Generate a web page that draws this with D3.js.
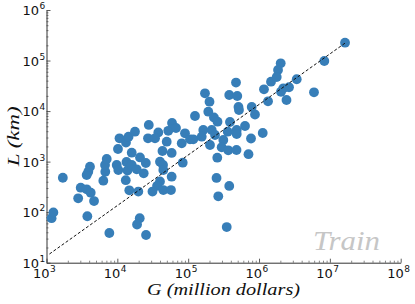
<!DOCTYPE html>
<html><head><meta charset="utf-8">
<script src="https://cdn.jsdelivr.net/npm/d3@7"></script>
<style>body{margin:0;background:#fff}svg{display:block}</style>
</head><body>
<script>
// GDP (million dollars) for each point
const G = [1180,1250,1700,2800,3040,3690,4210,4690,3770,3690,3890,4110,6340,6760,6700,7080,7710,9800,10320,10210,
  10730,13240,14400,13460,13900,13150,14750,15960,17740,20880,25230,15960,18750,23550,19770,20700,18970,25420,
  27800,37840,52360,59160,67300,27100,34040,49770,90160,106200,81100,124800,43360,58450,39990,44160,44570,83760,
  58450,39990,36310,31330,44570,57150,
  473000,172600,200000,380000,493000,513000,521000,789000,877000,1175000,1476000,1340000,192300,231000,259500,
  389000,634000,484000,484000,163300,214800,118000,155300,239300,313300,361500,1128000,771000,203200,297000,
  368000,481000,710000,257600,251200,380000,266000,350000,
  16370000,8350000,2023000,1854000,1778000,3405000,2650000,2203000,2042000,2443000,5970000];
// Length (km) for each point
const L = [76,99,480,188,305,283,243,166,83,543,631,793,419,631,857,1127,38.7,857,682,1778,
  2891,2388,3113,982,667,429,271,1500,3908,1208,940,857,705,588,256,75.7,57,35.3,
  5310,3767,4074,5808,4624,2891,2891,2477,3631,2767,2300,8000,1622,1483,995,857,682,952,
  503,404,330,256,274,274,
  36700,22500,15350,20800,19860,12050,10500,12050,8550,27000,38100,15600,9730,7460,6170,
  6080,5070,4230,3516,4230,4230,2767,3113,3365,2680,3908,3681,2864,2133,1919,
  1675,1698,1403,1197,475,330,206,50.8,
  225400,97900,88100,65000,47200,42600,29600,28200,24150,16560,23550];
const xTickExps = [3,4,5,6,7,8];
const yTickExps = [1,2,3,4,5,6];
const fitG = [1100, 16500000];
const fitRatio = 0.0135;
const watermark = "Train";
const xLabel = "G (million dollars)";
const yLabel = "L (km)";

(function () {
const W = 415, H = 304;
const mLeft = 46.5, mRight = 400.7, mTop = 10, mBottom = 262.7;
const svg = d3.select("body").append("svg").attr("width", W).attr("height", H);
const x = d3.scaleLog().domain([1e3, 1e8]).range([mLeft, mRight]);
const y = d3.scaleLog().domain([1e1, 1e6]).range([mBottom, mTop]);

function minors(lo, hi) {
  const out = [];
  for (let e = lo; e < hi; e++) for (let k = 2; k <= 9; k++) out.push(k * Math.pow(10, e));
  return out;
}
const axisColor = "#333";
svg.append("g").attr("transform", `translate(0,${mBottom})`)
  .call(d3.axisBottom(x).tickValues(minors(3, 8)).tickSize(-2).tickFormat(""))
  .call(g => { g.select(".domain").remove(); g.selectAll("line").attr("stroke", axisColor).attr("stroke-width", 0.6); });
svg.append("g").attr("transform", `translate(${mLeft},0)`)
  .call(d3.axisLeft(y).tickValues(minors(1, 6)).tickSize(-2).tickFormat(""))
  .call(g => { g.select(".domain").remove(); g.selectAll("line").attr("stroke", axisColor).attr("stroke-width", 0.6); });
const xAx = svg.append("g").attr("transform", `translate(0,${mBottom})`)
  .call(d3.axisBottom(x).tickValues(xTickExps.map(e => Math.pow(10, e))).tickSize(-4).tickSizeOuter(0).tickFormat(""));
const yAx = svg.append("g").attr("transform", `translate(${mLeft},0)`)
  .call(d3.axisLeft(y).tickValues(yTickExps.map(e => Math.pow(10, e))).tickSize(-4).tickSizeOuter(0).tickFormat(""));
[xAx, yAx].forEach(g => {
  g.select(".domain").attr("stroke", axisColor).attr("stroke-width", 1);
  g.selectAll("line").attr("stroke", axisColor).attr("stroke-width", 0.8);
});

const tickFont = "DejaVu Sans, sans-serif";
xTickExps.forEach(e => {
  const cx = x(Math.pow(10, e));
  svg.append("text").attr("x", cx + 3).attr("y", mBottom + 15)
    .attr("text-anchor", "end").attr("font-family", tickFont).attr("font-size", 13).attr("fill", "#111").text("10");
  svg.append("text").attr("x", cx + 3.5).attr("y", mBottom + 9)
    .attr("text-anchor", "start").attr("font-family", tickFont).attr("font-size", 9).attr("fill", "#111").text(e);
});
yTickExps.forEach(e => {
  const cy = y(Math.pow(10, e));
  svg.append("text").attr("x", mLeft - 7.5).attr("y", cy + 5)
    .attr("text-anchor", "end").attr("font-family", tickFont).attr("font-size", 13).attr("fill", "#111").text("10");
  svg.append("text").attr("x", mLeft - 7).attr("y", cy - 1)
    .attr("text-anchor", "start").attr("font-family", tickFont).attr("font-size", 9).attr("fill", "#111").text(e);
});

const pts = G.map((g, i) => ({ g, l: L[i] }));
svg.append("g").selectAll("circle").data(pts).join("circle")
  .attr("cx", d => x(d.g)).attr("cy", d => y(d.l)).attr("r", 4.9)
  .attr("fill", "#377eb8");
svg.append("line")
  .attr("x1", x(fitG[0])).attr("y1", y(fitG[0] * fitRatio))
  .attr("x2", x(fitG[1])).attr("y2", y(fitG[1] * fitRatio))
  .attr("stroke", "#111").attr("stroke-width", 1).attr("stroke-dasharray", "3,2");

const serif = "'Liberation Serif', 'DejaVu Serif', serif";
svg.append("text").attr("x", 313).attr("y", 250)
  .attr("font-family", serif).attr("font-style", "italic").attr("font-size", 27)
  .attr("textLength", 67).attr("lengthAdjust", "spacingAndGlyphs")
  .attr("fill", "#c6c6c6").text(watermark);
svg.append("text").attr("x", 147).attr("y", 295)
  .attr("font-family", serif).attr("font-style", "italic").attr("font-size", 16).attr("fill", "#111")
  .attr("textLength", 153).attr("lengthAdjust", "spacingAndGlyphs").text(xLabel);
svg.append("text").attr("transform", `translate(19,${(mTop + mBottom) / 2 + 30}) rotate(-90)`)
  .attr("font-family", serif).attr("font-style", "italic").attr("font-size", 16).attr("fill", "#111")
  .attr("textLength", 60).attr("lengthAdjust", "spacingAndGlyphs").text(yLabel);
})();
</script>
</body></html>
